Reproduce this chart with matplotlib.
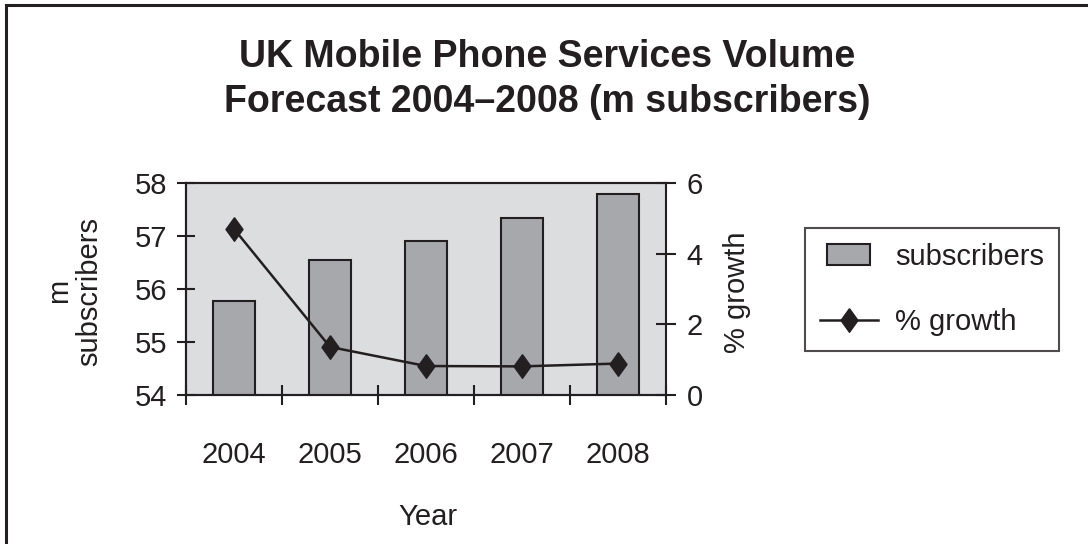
import matplotlib.pyplot as plt
import numpy as np
from matplotlib.patches import Rectangle
from matplotlib.lines import Line2D
from matplotlib.legend_handler import HandlerPatch

plt.rcParams['font.family'] = ['Liberation Sans', 'DejaVu Sans']

years = ['2004', '2005', '2006', '2007', '2008']
subscribers = [55.77, 56.54, 56.91, 57.34, 57.80]
growth = [4.70, 1.36, 0.82, 0.81, 0.89]

ink = '#231f20'
bar_grey = '#a7a8ab'
plot_bg = '#dcdddf'
W, H = 1088, 544

fig = plt.figure(figsize=(W / 100, H / 100), dpi=100)

# outer frame: only its left and top edges fall inside the picture
fig.patches.append(Rectangle((6 / W, -0.1), 1.2, 1 - 5 / H + 0.1,
                             transform=fig.transFigure, fill=False,
                             edgecolor=ink, linewidth=2.2))

ax = fig.add_axes([186 / W, 1 - 395 / H, 480 / W, 212 / H])
ax.set_facecolor(plot_bg)
x = np.arange(len(years))
ax.bar(x, subscribers, width=0.44, color=bar_grey, edgecolor=ink,
       linewidth=1.5, zorder=2)
ax.set_ylim(54, 58)
ax.set_xlim(-0.5, len(years) - 0.5)
ax.set_yticks([54, 55, 56, 57, 58])
ax.set_xticks(x)
ax.set_xticklabels(years)
ax.set_xticks(np.arange(-0.5, len(years)), minor=True)
ax.tick_params(axis='x', which='major', length=0, pad=33, labelsize=21,
               colors=ink)
ax.tick_params(axis='x', which='minor', direction='inout', length=15,
               width=1.5, color=ink)
ax.tick_params(axis='y', direction='inout', length=13, width=1.5, pad=7,
               labelsize=21, colors=ink)
for s in ax.spines.values():
    s.set_color(ink)
    s.set_linewidth(1.5)
ax.spines['right'].set_visible(False)

ax2 = ax.twinx()
diamond = [(0, 1), (0.72, 0), (0, -1), (-0.72, 0), (0, 1)]
ax2.plot(x, growth, color=ink, linewidth=1.8, marker=diamond,
         markersize=17, markerfacecolor=ink, markeredgecolor=ink, zorder=3)
ax2.set_ylim(0, 6)
ax2.set_yticks([0, 2, 4, 6])
ax2.tick_params(axis='y', direction='inout', length=14, width=1.5, pad=8,
                labelsize=21, colors=ink)
for s in ax2.spines.values():
    s.set_color(ink)
    s.set_linewidth(1.5)

fig.text(547 / W, 1 - 67 / H, 'UK Mobile Phone Services Volume',
         ha='center', va='baseline', fontsize=27, fontweight='bold', color=ink)
fig.text(547 / W, 1 - 112 / H, 'Forecast 2004\u20132008 (m subscribers)',
         ha='center', va='baseline', fontsize=27, fontweight='bold', color=ink)

fig.text(74 / W, 1 - 291 / H, 'm\nsubscribers', rotation=90,
         ha='center', va='center', multialignment='center', fontsize=21,
         color=ink, linespacing=1.1)
fig.text(737 / W, 1 - 292 / H, '% growth', rotation=90,
         ha='center', va='center', fontsize=21, color=ink)
fig.text(428 / W, 1 - 525 / H, 'Year', ha='center', va='baseline',
         fontsize=21, color=ink)


def small_box(legend, orig_handle, xdescent, ydescent, width, height,
              fontsize):
    w = width * 0.74
    return Rectangle((-xdescent + (width - w) / 2, -ydescent), w, height)


handles = [Rectangle((0, 0), 1, 1, facecolor=bar_grey, edgecolor=ink,
                     linewidth=1.5),
           Line2D([], [], color=ink, linewidth=1.8, marker=diamond,
                  markersize=17, markerfacecolor=ink)]
leg = fig.legend(handles, ['subscribers', '% growth'], loc='upper left',
                 bbox_to_anchor=(805 / W, 1 - 228 / H), borderaxespad=0,
                 fontsize=21, frameon=True, fancybox=False, handlelength=2.0,
                 handleheight=0.75, handletextpad=0.6, labelspacing=1.3,
                 borderpad=0.5,
                 handler_map={Rectangle: HandlerPatch(patch_func=small_box)})
leg.get_frame().set_edgecolor(ink)
leg.get_frame().set_linewidth(1.5)
for t in leg.get_texts():
    t.set_color(ink)

fig.savefig('out.png', dpi=100)
